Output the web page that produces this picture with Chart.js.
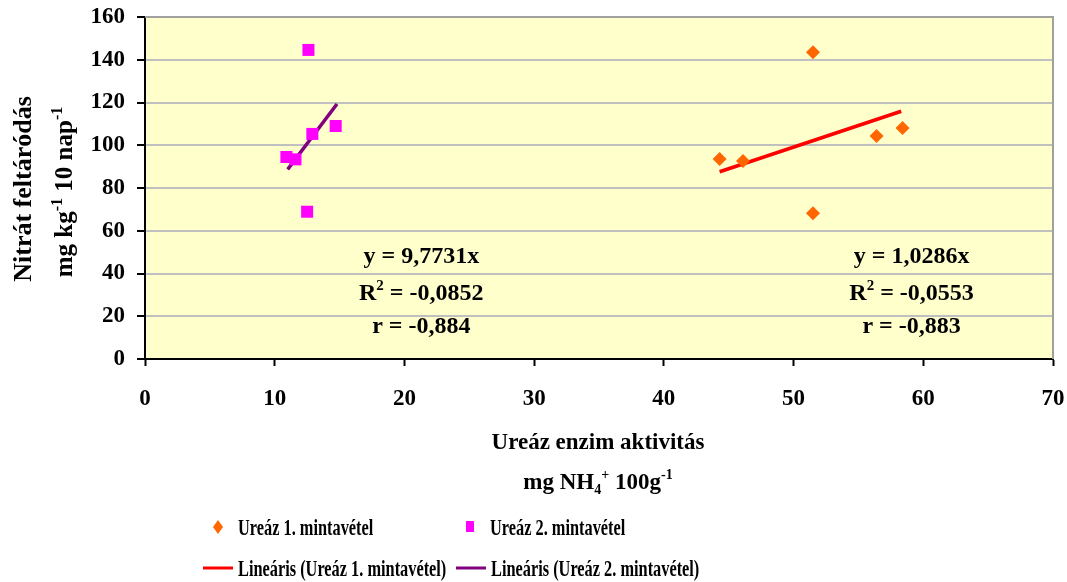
<!DOCTYPE html>
<html>
<head>
<meta charset="utf-8">
<script src="https://cdn.jsdelivr.net/npm/chart.js@4"></script>
<style>
  html, body { margin: 0; padding: 0; background: #fff; }
  #wrap { width: 1067px; height: 582px; position: relative; }
</style>
</head>
<body>
<div id="wrap"><canvas id="ureaChart"></canvas></div>
<script>
// Ureáz 1. mintavétel (diamonds)
const urea1X = [44.3, 46.1, 51.5, 51.5, 56.4, 58.4];
const urea1Y = [93.6, 92.6, 143.5, 68.2, 104.3, 108.1];
// Ureáz 2. mintavétel (squares)
const urea2X = [10.9, 11.6, 12.5, 12.6, 12.9, 14.7];
const urea2Y = [94.5, 93.4, 68.9, 144.6, 105.3, 109.0];
// trend lines as drawn in the original
const trend1X = [44.3, 58.3];
const trend1Y = [87.6, 115.9];
const trend2X = [11.0, 14.8];
const trend2Y = [88.7, 119.3];

const xTicks = [0, 10, 20, 30, 40, 50, 60, 70];
const yTicks = [0, 20, 40, 60, 80, 100, 120, 140, 160];

const seriesNames = ['Ureáz 1. mintavétel', 'Ureáz 2. mintavétel',
    'Lineáris (Ureáz 1. mintavétel)', 'Lineáris (Ureáz 2. mintavétel)'];
const eqLeft = ['y = 9,7731x', '-0,0852', 'r = -0,884'];
const eqRight = ['y = 1,0286x', '-0,0553', 'r = -0,883'];

const toPoints = (xs, ys) => xs.map((x, i) => ({x: x, y: ys[i]}));

const FONT = '"Liberation Serif", "Times New Roman", serif';

// draws text made of normal / sup / sub parts, centred at cx
function richText(ctx, parts, cx, baseY, size) {
    const small = Math.round(size * 0.62);
    let total = 0;
    parts.forEach(p => {
        ctx.font = 'bold ' + (p[1] ? small : size) + 'px ' + FONT;
        total += ctx.measureText(p[0]).width;
    });
    let x = cx - total / 2;
    ctx.textAlign = 'left';
    ctx.textBaseline = 'alphabetic';
    parts.forEach(p => {
        ctx.font = 'bold ' + (p[1] ? small : size) + 'px ' + FONT;
        let y = baseY;
        if (p[1] === 'sup') y = baseY - size * 0.42;
        if (p[1] === 'sub') y = baseY + size * 0.2;
        ctx.fillText(p[0], x, y);
        x += ctx.measureText(p[0]).width;
    });
}

const decorPlugin = {
    id: 'decor',
    beforeDraw(chart) {
        const {ctx, chartArea: a} = chart;
        ctx.save();
        ctx.fillStyle = '#FFFFCC';
        ctx.fillRect(a.left, a.top, a.right - a.left, a.bottom - a.top);
        ctx.restore();
    },
    afterDatasetsDraw(chart) {
        const {ctx, chartArea: a} = chart;
        ctx.save();
        ctx.strokeStyle = '#A0A0A0';
        ctx.lineWidth = 2;
        ctx.beginPath();
        ctx.moveTo(a.left, a.top);
        ctx.lineTo(a.right, a.top);
        ctx.lineTo(a.right, a.bottom);
        ctx.stroke();
        ctx.restore();
    },
    afterDraw(chart) {
        const ctx = chart.ctx;
        const xs = chart.scales.x;
        ctx.save();
        ctx.fillStyle = '#000';

        // equations
        [[21.3, eqLeft], [59.1, eqRight]].forEach(([xv, eq]) => {
            const cx = xs.getPixelForValue(xv);
            richText(ctx, [[eq[0], '']], cx, 263, 24);
            richText(ctx, [['R', ''], ['2', 'sup'], [' = ' + eq[1], '']], cx, 300, 24);
            richText(ctx, [[eq[2], '']], cx, 333, 24);
        });

        // y axis title
        ctx.save();
        ctx.translate(31, 189);
        ctx.rotate(-Math.PI / 2);
        richText(ctx, [['Nitrát feltáródás', '']], 0, 0, 26);
        ctx.restore();
        ctx.save();
        ctx.translate(72, 192);
        ctx.rotate(-Math.PI / 2);
        richText(ctx, [['mg kg', ''], ['-1', 'sup'], [' 10 nap', ''], ['-1', 'sup']], 0, 0, 25);
        ctx.restore();

        // x axis title
        richText(ctx, [['Ureáz enzim aktivitás', '']], 598, 449, 23);
        richText(ctx, [['mg NH', ''], ['4', 'sub'], ['+', 'sup'], [' 100g', ''], ['-1', 'sup']], 598, 489, 23);

        // legend
        const legendRows = [
            {x: 218, y: 527, kind: 'diamond', color: '#FF6600', text: seriesNames[0]},
            {x: 470, y: 527, kind: 'square', color: '#FF00FF', text: seriesNames[1]},
            {x: 218, y: 568, kind: 'line', color: '#FF0000', text: seriesNames[2]},
            {x: 471, y: 568, kind: 'line', color: '#800080', text: seriesNames[3]}
        ];
        legendRows.forEach(it => {
            ctx.fillStyle = it.color;
            ctx.strokeStyle = it.color;
            if (it.kind === 'diamond') {
                ctx.beginPath();
                ctx.moveTo(it.x - 5, it.y);
                ctx.lineTo(it.x, it.y - 7);
                ctx.lineTo(it.x + 5, it.y);
                ctx.lineTo(it.x, it.y + 7);
                ctx.closePath();
                ctx.fill();
            } else if (it.kind === 'square') {
                ctx.fillRect(it.x - 4, it.y - 6, 8, 11);
            } else {
                ctx.lineWidth = 3;
                ctx.beginPath();
                ctx.moveTo(it.x - 15, it.y);
                ctx.lineTo(it.x + 15, it.y);
                ctx.stroke();
            }
            ctx.fillStyle = '#000';
            ctx.save();
            ctx.translate(it.x + 20, it.y + 8);
            ctx.scale(0.71, 1);
            ctx.font = 'bold 23px ' + FONT;
            ctx.textAlign = 'left';
            ctx.textBaseline = 'alphabetic';
            ctx.fillText(it.text, 0, 0);
            ctx.restore();
        });
        ctx.restore();
    }
};

const ctx = document.getElementById('ureaChart').getContext('2d');

new Chart(ctx, {
    type: 'scatter',
    data: {
        datasets: [{
            label: seriesNames[0],
            data: toPoints(urea1X, urea1Y),
            pointStyle: 'rectRot',
            pointRadius: 7,
            backgroundColor: '#FF6600',
            borderColor: '#FF6600',
            borderWidth: 0
        }, {
            label: seriesNames[1],
            data: toPoints(urea2X, urea2Y),
            pointStyle: 'rect',
            pointRadius: 8.5,
            backgroundColor: '#FF00FF',
            borderColor: '#FF00FF',
            borderWidth: 0
        }, {
            label: seriesNames[2],
            data: toPoints(trend1X, trend1Y),
            showLine: true,
            pointRadius: 0,
            borderColor: '#FF0000',
            borderWidth: 3.5
        }, {
            label: seriesNames[3],
            data: toPoints(trend2X, trend2Y),
            showLine: true,
            pointRadius: 0,
            borderColor: '#800080',
            borderWidth: 3.5
        }]
    },
    options: {
        responsive: true,
        maintainAspectRatio: false,
        animation: false,
        layout: {
            padding: {top: 17, right: 14, left: 0, bottom: 0}
        },
        scales: {
            x: {
                type: 'linear',
                min: 0,
                max: 70,
                afterBuildTicks: s => { s.ticks = xTicks.map(v => ({value: v})); },
                afterFit: s => {
                    s.height = 223;
                    s.paddingLeft = 0;
                    s.paddingRight = 0;
                },
                border: {color: '#000', width: 2},
                grid: {
                    drawOnChartArea: false,
                    tickLength: 7,
                    tickColor: '#000',
                    tickWidth: 2
                },
                ticks: {
                    color: '#000',
                    padding: 19,
                    maxRotation: 0,
                    font: {family: FONT, size: 23, weight: 'bold'}
                }
            },
            y: {
                min: 0,
                max: 160,
                afterBuildTicks: s => { s.ticks = yTicks.map(v => ({value: v})); },
                afterFit: s => {
                    s.width = 145;
                    s.paddingTop = 0;
                    s.paddingBottom = 0;
                },
                border: {color: '#000', width: 2},
                grid: {
                    color: '#C0C0C0',
                    lineWidth: 2,
                    tickLength: 8,
                    tickColor: '#000',
                    tickWidth: 2
                },
                ticks: {
                    color: '#000',
                    padding: 12,
                    font: {family: FONT, size: 23, weight: 'bold'}
                }
            }
        },
        plugins: {
            legend: {display: false},
            tooltip: {enabled: false}
        }
    },
    plugins: [decorPlugin]
});
</script>
</body>
</html>
